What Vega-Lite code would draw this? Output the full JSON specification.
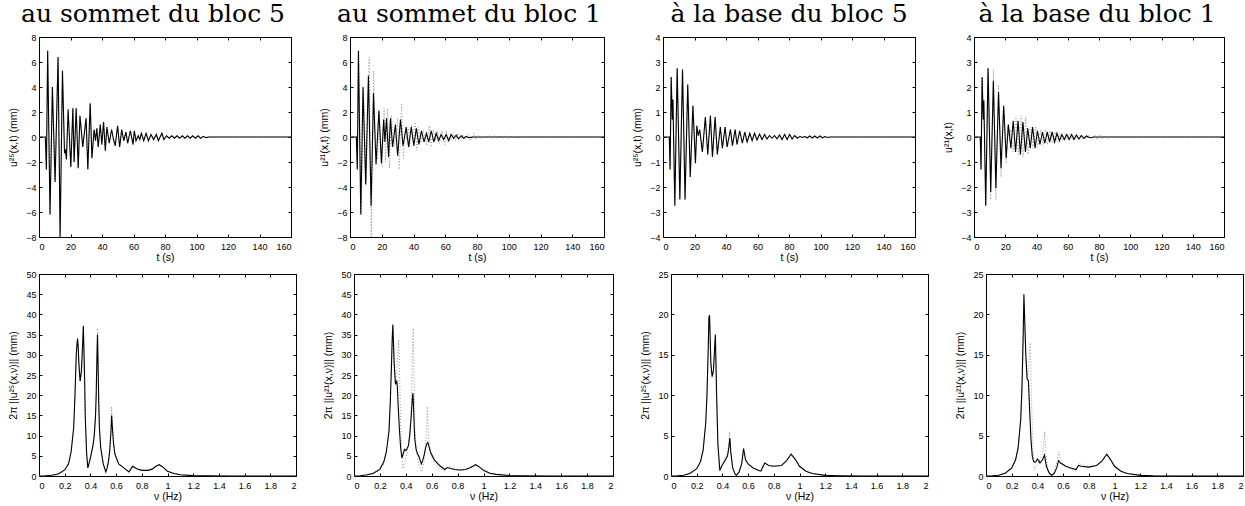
{
"$schema": "https://vega.github.io/schema/vega-lite/v6.json",
"padding": {"left": 7, "top": 1, "right": 5, "bottom": 5},
"background": "white",
"config": {
 "view": {"stroke": "black", "strokeWidth": 1},
 "font": "Liberation Sans",
 "axis": {"grid": false, "domain": false, "tickColor": "black", "tickSize": -3, "tickWidth": 1, "labelFont": "Liberation Sans", "labelFontSize": 9, "labelColor": "black", "titleFont": "Liberation Sans", "titleFontSize": 10.5, "titleFontWeight": "normal", "titleColor": "black"},
 "axisY": {"minExtent": 18, "maxExtent": 18, "titlePadding": 3, "labelPadding": 6},
 "axisX": {"minExtent": 14, "maxExtent": 14, "titlePadding": 1, "labelPadding": 8},
 "title": {"font": "DejaVu Serif", "fontSize": 25, "fontWeight": "normal", "color": "black", "anchor": "middle", "baseline": "alphabetic", "offset": 6}
},
"datasets": {
 "top5": [
  {"t":0,"u":0},{"t":4,"u":0},{"t":4.7,"u":-2.6},{"t":5.5,"u":6.9},{"t":7.0,"u":-6.2},{"t":8.5,"u":4.0},{"t":10.2,"u":-3.6},{"t":12.1,"u":6.4},{"t":13.4,"u":-8.0},{"t":14.9,"u":5.3},{"t":16.2,"u":-1.3},{"t":16.8,"u":-1.0},{"t":17.4,"u":-1.8},{"t":18.5,"u":2.2},{"t":20.2,"u":-2.4},{"t":21.5,"u":2.3},{"t":22.3,"u":-2.0},{"t":23.6,"u":2.3},{"t":24.9,"u":-2.5},{"t":26.0,"u":1.7},{"t":27.8,"u":-0.8},{"t":29.9,"u":1.5},{"t":31.0,"u":-2.6},{"t":32.5,"u":2.7},{"t":33.6,"u":-1.7},{"t":35.0,"u":0.6},{"t":35.9,"u":-0.3},{"t":36.7,"u":0.7},{"t":37.6,"u":-0.8},{"t":38.9,"u":1.0},{"t":39.9,"u":-0.6},{"t":41.0,"u":1.2},{"t":42.1,"u":-1.1},{"t":43.1,"u":0.8},{"t":44.6,"u":-0.5},{"t":46.1,"u":0.6},{"t":47.3,"u":-0.2},{"t":48.4,"u":-0.7},{"t":49.9,"u":0.9},{"t":51.2,"u":-0.8},{"t":52.5,"u":0.6},{"t":53.8,"u":-0.3},{"t":55.2,"u":0.4},{"t":56.3,"u":-0.5},{"t":58.0,"u":0.5},{"t":59.7,"u":-0.6},{"t":60.5,"u":0.5},{"t":61.6,"u":-0.3},{"t":63.0,"u":0.1},{"t":64.0,"u":-0.2},{"t":65.0,"u":0.3},{"t":66.5,"u":-0.3},{"t":68.0,"u":0.3},{"t":69.5,"u":-0.3},{"t":71.1,"u":0.2},{"t":72.8,"u":-0.2},{"t":74.5,"u":0.2},{"t":75.8,"u":-0.3},{"t":78.0,"u":0.3},{"t":79.3,"u":-0.2},{"t":81.0,"u":0.1},{"t":82.6,"u":-0.1},{"t":84.3,"u":0.1},{"t":86.0,"u":-0.1},{"t":87.6,"u":0.1},{"t":89.3,"u":-0.1},{"t":91.0,"u":0.1},{"t":92.6,"u":-0.1},{"t":94.3,"u":0.1},{"t":96.0,"u":-0.1},{"t":97.6,"u":0.1},{"t":99.3,"u":-0.1},{"t":101.0,"u":0.1},{"t":102.6,"u":-0.1},{"t":104.3,"u":0.05},{"t":106.0,"u":-0.05},{"t":108,"u":0},{"t":160,"u":0}
 ],
 "top1": [
  {"t":0,"u":0},{"t":4,"u":0},{"t":4.6,"u":-2.6},{"t":5.3,"u":6.9},{"t":6.8,"u":-6.2},{"t":8.2,"u":4.0},{"t":9.9,"u":-3.8},{"t":11.6,"u":4.9},{"t":13.3,"u":-5.5},{"t":14.8,"u":3.5},{"t":16.4,"u":-2.2},{"t":18.2,"u":2.1},{"t":19.8,"u":-2.1},{"t":21.2,"u":1.4},{"t":22.0,"u":-0.4},{"t":23.0,"u":1.5},{"t":24.3,"u":-1.6},{"t":25.5,"u":1.5},{"t":26.8,"u":-0.8},{"t":28.6,"u":1.0},{"t":30.0,"u":-1.5},{"t":31.8,"u":1.4},{"t":33.4,"u":-0.7},{"t":35.4,"u":0.8},{"t":36.9,"u":-0.8},{"t":38.6,"u":0.8},{"t":40.2,"u":-0.7},{"t":41.8,"u":0.7},{"t":43.4,"u":-0.6},{"t":45.0,"u":0.5},{"t":46.6,"u":-0.4},{"t":48.2,"u":0.3},{"t":49.6,"u":-0.4},{"t":51.2,"u":0.5},{"t":52.8,"u":-0.4},{"t":54.3,"u":0.3},{"t":55.8,"u":-0.3},{"t":57.4,"u":0.2},{"t":59.0,"u":-0.2},{"t":60.6,"u":0.2},{"t":62.2,"u":-0.3},{"t":63.7,"u":0.2},{"t":65.3,"u":-0.1},{"t":66.9,"u":0.15},{"t":68.4,"u":-0.15},{"t":70.0,"u":0.1},{"t":71.6,"u":-0.1},{"t":73.2,"u":0.05},{"t":74.8,"u":-0.05},{"t":78,"u":0},{"t":160,"u":0}
 ],
 "base5": [
  {"t":0,"u":0},{"t":4,"u":0},{"t":4.5,"u":-1.3},{"t":5.2,"u":2.4},{"t":5.9,"u":0.7},{"t":6.3,"u":1.5},{"t":7.5,"u":-2.75},{"t":9.0,"u":2.75},{"t":10.7,"u":-2.5},{"t":12.4,"u":2.7},{"t":14.0,"u":-2.5},{"t":15.7,"u":2.1},{"t":17.3,"u":-1.6},{"t":19.0,"u":1.25},{"t":20.6,"u":-1.05},{"t":21.5,"u":0.45},{"t":22.4,"u":0.05},{"t":23.3,"u":0.3},{"t":25.0,"u":-0.6},{"t":26.9,"u":0.8},{"t":28.4,"u":-0.7},{"t":30.1,"u":0.85},{"t":31.4,"u":-0.8},{"t":33.1,"u":0.8},{"t":34.5,"u":-0.7},{"t":36.4,"u":0.4},{"t":37.7,"u":-0.45},{"t":39.4,"u":0.4},{"t":40.7,"u":-0.4},{"t":42.8,"u":0.3},{"t":44.1,"u":-0.35},{"t":45.8,"u":0.3},{"t":47.0,"u":-0.3},{"t":48.7,"u":0.25},{"t":50.4,"u":-0.25},{"t":51.9,"u":0.2},{"t":53.4,"u":-0.2},{"t":55.1,"u":0.15},{"t":56.6,"u":-0.15},{"t":58.1,"u":0.15},{"t":59.7,"u":-0.12},{"t":61.3,"u":0.12},{"t":62.9,"u":-0.1},{"t":64.5,"u":0.1},{"t":66.0,"u":-0.08},{"t":67.6,"u":0.06},{"t":69.2,"u":-0.05},{"t":70.8,"u":0.06},{"t":72.4,"u":-0.07},{"t":74.0,"u":0.08},{"t":75.6,"u":-0.1},{"t":77.2,"u":0.1},{"t":78.8,"u":-0.1},{"t":80.4,"u":0.1},{"t":82.0,"u":-0.08},{"t":83.6,"u":0.06},{"t":85.2,"u":-0.04},{"t":87.0,"u":0.02},{"t":88.5,"u":-0.02},{"t":90.0,"u":0.02},{"t":91.6,"u":-0.03},{"t":93.2,"u":0.04},{"t":94.8,"u":-0.04},{"t":96.4,"u":0.04},{"t":98.0,"u":-0.04},{"t":99.6,"u":0.04},{"t":101.2,"u":-0.03},{"t":102.8,"u":0.02},{"t":104.4,"u":-0.02},{"t":106,"u":0},{"t":160,"u":0}
 ],
 "base1": [
  {"t":0,"u":0},{"t":4,"u":0},{"t":4.5,"u":-1.3},{"t":5.2,"u":2.4},{"t":5.9,"u":0.7},{"t":6.3,"u":1.45},{"t":7.5,"u":-2.75},{"t":9.0,"u":2.75},{"t":10.7,"u":-2.2},{"t":12.4,"u":2.25},{"t":14.0,"u":-2.05},{"t":15.7,"u":1.8},{"t":17.3,"u":-1.25},{"t":19.0,"u":1.25},{"t":20.6,"u":-0.85},{"t":22.0,"u":0.5},{"t":23.6,"u":-0.45},{"t":25.1,"u":0.65},{"t":26.6,"u":-0.6},{"t":28.2,"u":0.65},{"t":29.7,"u":-0.7},{"t":31.3,"u":0.6},{"t":32.9,"u":-0.6},{"t":34.4,"u":0.35},{"t":36.0,"u":-0.45},{"t":37.5,"u":0.4},{"t":39.1,"u":-0.45},{"t":40.6,"u":0.25},{"t":42.2,"u":-0.3},{"t":43.8,"u":0.2},{"t":45.3,"u":-0.25},{"t":46.9,"u":0.2},{"t":48.4,"u":-0.2},{"t":50.0,"u":0.2},{"t":51.6,"u":-0.2},{"t":53.1,"u":0.15},{"t":54.7,"u":-0.15},{"t":56.2,"u":0.1},{"t":57.8,"u":-0.1},{"t":59.4,"u":0.1},{"t":60.9,"u":-0.1},{"t":62.5,"u":0.1},{"t":64.0,"u":-0.1},{"t":65.6,"u":0.08},{"t":67.2,"u":-0.08},{"t":68.7,"u":0.06},{"t":70.3,"u":-0.06},{"t":72.0,"u":0.04},{"t":74.0,"u":-0.03},{"t":77,"u":0},{"t":160,"u":0}
 ],
 "ftop5": [
  {"f":0,"a":0},{"f":0.05,"a":0.05},{"f":0.1,"a":0.2},{"f":0.15,"a":0.5},{"f":0.2,"a":1.5},{"f":0.23,"a":3},{"f":0.25,"a":6},{"f":0.27,"a":12},{"f":0.28,"a":20},{"f":0.29,"a":30},{"f":0.295,"a":32.5},{"f":0.3,"a":34},{"f":0.305,"a":32},{"f":0.31,"a":28},{"f":0.32,"a":23.5},{"f":0.33,"a":26},{"f":0.34,"a":33},{"f":0.345,"a":37.2},{"f":0.35,"a":31},{"f":0.355,"a":24},{"f":0.36,"a":15},{"f":0.37,"a":6},{"f":0.38,"a":2.0},{"f":0.39,"a":3.2},{"f":0.4,"a":4.5},{"f":0.42,"a":7.5},{"f":0.43,"a":10},{"f":0.44,"a":15},{"f":0.445,"a":20},{"f":0.45,"a":28},{"f":0.455,"a":35},{"f":0.46,"a":27},{"f":0.465,"a":18},{"f":0.47,"a":12},{"f":0.48,"a":7},{"f":0.5,"a":3},{"f":0.52,"a":1.0},{"f":0.53,"a":2},{"f":0.54,"a":3.5},{"f":0.55,"a":6},{"f":0.56,"a":11},{"f":0.565,"a":15},{"f":0.57,"a":12.5},{"f":0.58,"a":8},{"f":0.59,"a":5.5},{"f":0.62,"a":3},{"f":0.66,"a":2},{"f":0.7,"a":1.0},{"f":0.72,"a":2.0},{"f":0.73,"a":2.4},{"f":0.76,"a":1.8},{"f":0.8,"a":1.4},{"f":0.85,"a":1.4},{"f":0.88,"a":1.7},{"f":0.91,"a":2.4},{"f":0.935,"a":2.8},{"f":0.96,"a":2.3},{"f":1.0,"a":1.2},{"f":1.05,"a":0.6},{"f":1.1,"a":0.3},{"f":1.2,"a":0.1},{"f":1.3,"a":0.04},{"f":1.5,"a":0},{"f":2,"a":0}
 ],
 "ftopref": [
  {"f":0,"a":0},{"f":0.05,"a":0.05},{"f":0.1,"a":0.2},{"f":0.15,"a":0.5},{"f":0.2,"a":1.5},{"f":0.23,"a":3},{"f":0.25,"a":6},{"f":0.27,"a":12},{"f":0.28,"a":20},{"f":0.29,"a":30},{"f":0.295,"a":32.5},{"f":0.3,"a":34},{"f":0.305,"a":32},{"f":0.31,"a":28},{"f":0.32,"a":23.5},{"f":0.33,"a":25},{"f":0.34,"a":31},{"f":0.345,"a":33.8},{"f":0.35,"a":28},{"f":0.355,"a":21},{"f":0.36,"a":13},{"f":0.37,"a":5},{"f":0.378,"a":1.8},{"f":0.39,"a":3.2},{"f":0.4,"a":4.5},{"f":0.42,"a":7.5},{"f":0.43,"a":10},{"f":0.44,"a":15},{"f":0.445,"a":21},{"f":0.45,"a":29},{"f":0.457,"a":36.5},{"f":0.462,"a":27},{"f":0.467,"a":18},{"f":0.47,"a":12},{"f":0.48,"a":7},{"f":0.5,"a":3},{"f":0.52,"a":1.0},{"f":0.53,"a":2},{"f":0.54,"a":3.5},{"f":0.55,"a":6.5},{"f":0.56,"a":12},{"f":0.565,"a":17.2},{"f":0.57,"a":13.5},{"f":0.58,"a":8.5},{"f":0.59,"a":5.5},{"f":0.62,"a":3},{"f":0.66,"a":2},{"f":0.7,"a":1.0},{"f":0.72,"a":2.2},{"f":0.73,"a":2.5},{"f":0.76,"a":1.8},{"f":0.8,"a":1.4},{"f":0.85,"a":1.4},{"f":0.88,"a":1.7},{"f":0.91,"a":2.4},{"f":0.935,"a":2.8},{"f":0.96,"a":2.3},{"f":1.0,"a":1.2},{"f":1.05,"a":0.6},{"f":1.1,"a":0.3},{"f":1.2,"a":0.1},{"f":1.3,"a":0.04},{"f":1.5,"a":0},{"f":2,"a":0}
 ],
 "ftop1": [
  {"f":0,"a":0},{"f":0.05,"a":0.05},{"f":0.1,"a":0.3},{"f":0.15,"a":0.7},{"f":0.2,"a":1.7},{"f":0.23,"a":3.5},{"f":0.25,"a":6},{"f":0.27,"a":11},{"f":0.28,"a":18},{"f":0.29,"a":28},{"f":0.295,"a":34},{"f":0.3,"a":37.5},{"f":0.305,"a":33},{"f":0.31,"a":28},{"f":0.32,"a":22.7},{"f":0.33,"a":23.6},{"f":0.335,"a":22},{"f":0.34,"a":18},{"f":0.35,"a":12},{"f":0.36,"a":7},{"f":0.37,"a":4.5},{"f":0.38,"a":5.5},{"f":0.39,"a":6.6},{"f":0.4,"a":6.3},{"f":0.41,"a":6.8},{"f":0.42,"a":7.5},{"f":0.43,"a":10},{"f":0.44,"a":14},{"f":0.45,"a":19},{"f":0.455,"a":20.5},{"f":0.46,"a":17},{"f":0.465,"a":12},{"f":0.47,"a":9},{"f":0.48,"a":6.5},{"f":0.49,"a":5.5},{"f":0.5,"a":5},{"f":0.51,"a":4},{"f":0.52,"a":3.0},{"f":0.53,"a":3.8},{"f":0.54,"a":5},{"f":0.55,"a":6.5},{"f":0.56,"a":7.8},{"f":0.57,"a":8.3},{"f":0.58,"a":7.2},{"f":0.59,"a":6},{"f":0.62,"a":4},{"f":0.66,"a":2.6},{"f":0.7,"a":1.6},{"f":0.72,"a":2.1},{"f":0.74,"a":1.9},{"f":0.78,"a":1.6},{"f":0.82,"a":1.5},{"f":0.86,"a":1.6},{"f":0.9,"a":2.1},{"f":0.94,"a":2.8},{"f":0.97,"a":2.2},{"f":1.0,"a":1.4},{"f":1.05,"a":0.7},{"f":1.1,"a":0.4},{"f":1.2,"a":0.12},{"f":1.3,"a":0.05},{"f":1.5,"a":0},{"f":2,"a":0}
 ],
 "fbase5": [
  {"f":0,"a":0},{"f":0.05,"a":0.03},{"f":0.1,"a":0.1},{"f":0.15,"a":0.35},{"f":0.2,"a":0.9},{"f":0.23,"a":1.8},{"f":0.25,"a":3.2},{"f":0.27,"a":6.5},{"f":0.28,"a":10},{"f":0.29,"a":16},{"f":0.295,"a":19.6},{"f":0.3,"a":19.9},{"f":0.305,"a":17},{"f":0.31,"a":14},{"f":0.32,"a":12.3},{"f":0.33,"a":13},{"f":0.34,"a":16},{"f":0.345,"a":17.5},{"f":0.35,"a":14},{"f":0.355,"a":10},{"f":0.365,"a":4},{"f":0.38,"a":0.7},{"f":0.4,"a":1.4},{"f":0.42,"a":1.9},{"f":0.44,"a":2.5},{"f":0.45,"a":3.5},{"f":0.458,"a":4.7},{"f":0.465,"a":3},{"f":0.48,"a":1.0},{"f":0.5,"a":0.2},{"f":0.51,"a":0.1},{"f":0.53,"a":0.5},{"f":0.55,"a":1.5},{"f":0.565,"a":3.4},{"f":0.58,"a":2.0},{"f":0.6,"a":1.5},{"f":0.64,"a":1.0},{"f":0.68,"a":0.7},{"f":0.7,"a":0.6},{"f":0.72,"a":1.3},{"f":0.73,"a":1.6},{"f":0.76,"a":1.3},{"f":0.8,"a":1.2},{"f":0.86,"a":1.3},{"f":0.9,"a":1.9},{"f":0.935,"a":2.7},{"f":0.97,"a":2.0},{"f":1.0,"a":1.2},{"f":1.05,"a":0.6},{"f":1.1,"a":0.3},{"f":1.2,"a":0.08},{"f":1.3,"a":0.03},{"f":1.5,"a":0},{"f":2,"a":0}
 ],
 "fbaseref": [
  {"f":0,"a":0},{"f":0.05,"a":0.03},{"f":0.1,"a":0.1},{"f":0.15,"a":0.35},{"f":0.2,"a":0.9},{"f":0.23,"a":1.8},{"f":0.25,"a":3.2},{"f":0.27,"a":6.5},{"f":0.28,"a":10},{"f":0.29,"a":16},{"f":0.295,"a":19.6},{"f":0.3,"a":19.9},{"f":0.305,"a":17},{"f":0.31,"a":14},{"f":0.32,"a":12.3},{"f":0.33,"a":13},{"f":0.34,"a":15.5},{"f":0.345,"a":16.5},{"f":0.35,"a":13},{"f":0.355,"a":9},{"f":0.365,"a":3.5},{"f":0.375,"a":0.7},{"f":0.4,"a":1.4},{"f":0.42,"a":2.0},{"f":0.44,"a":2.8},{"f":0.45,"a":4.0},{"f":0.456,"a":5.5},{"f":0.463,"a":3.2},{"f":0.48,"a":1.0},{"f":0.5,"a":0.2},{"f":0.51,"a":0.1},{"f":0.53,"a":0.5},{"f":0.55,"a":1.6},{"f":0.565,"a":3.0},{"f":0.58,"a":2.0},{"f":0.6,"a":1.5},{"f":0.64,"a":1.0},{"f":0.68,"a":0.7},{"f":0.7,"a":0.6},{"f":0.72,"a":1.4},{"f":0.73,"a":1.6},{"f":0.76,"a":1.3},{"f":0.8,"a":1.2},{"f":0.86,"a":1.3},{"f":0.9,"a":1.9},{"f":0.935,"a":2.7},{"f":0.97,"a":2.0},{"f":1.0,"a":1.2},{"f":1.05,"a":0.6},{"f":1.1,"a":0.3},{"f":1.2,"a":0.08},{"f":1.3,"a":0.03},{"f":1.5,"a":0},{"f":2,"a":0}
 ],
 "fbase1": [
  {"f":0,"a":0},{"f":0.05,"a":0.03},{"f":0.1,"a":0.1},{"f":0.15,"a":0.35},{"f":0.2,"a":1.0},{"f":0.23,"a":2},{"f":0.25,"a":3.5},{"f":0.27,"a":7},{"f":0.28,"a":11},{"f":0.29,"a":18},{"f":0.295,"a":22.5},{"f":0.3,"a":20},{"f":0.31,"a":15},{"f":0.32,"a":12},{"f":0.33,"a":11.8},{"f":0.335,"a":10},{"f":0.34,"a":8},{"f":0.35,"a":4.5},{"f":0.36,"a":2.5},{"f":0.37,"a":1.8},{"f":0.38,"a":1.7},{"f":0.39,"a":1.8},{"f":0.4,"a":2.1},{"f":0.41,"a":1.9},{"f":0.42,"a":1.6},{"f":0.44,"a":2.0},{"f":0.455,"a":2.6},{"f":0.46,"a":2.1},{"f":0.47,"a":1.2},{"f":0.49,"a":0.4},{"f":0.51,"a":0.1},{"f":0.53,"a":0.3},{"f":0.55,"a":1.0},{"f":0.565,"a":1.9},{"f":0.58,"a":1.6},{"f":0.62,"a":1.2},{"f":0.66,"a":1.0},{"f":0.7,"a":0.8},{"f":0.72,"a":1.3},{"f":0.74,"a":1.2},{"f":0.8,"a":1.1},{"f":0.86,"a":1.3},{"f":0.9,"a":1.8},{"f":0.94,"a":2.7},{"f":0.97,"a":2.0},{"f":1.0,"a":1.2},{"f":1.05,"a":0.6},{"f":1.1,"a":0.3},{"f":1.2,"a":0.08},{"f":1.3,"a":0.02},{"f":1.5,"a":0},{"f":2,"a":0}
 ]
},
"spacing": 6,
"vconcat": [
 {"spacing": 24, "hconcat": [
  {"width": 252, "height": 200, "title": {"text": "au sommet du bloc 5", "dx": -12},
   "layer": [
    {"data": {"name": "top5"}, "mark": {"type": "line", "color": "#999999", "strokeWidth": 1, "strokeDash": [1, 2]},
     "encoding": {"x": {"field": "t", "type": "quantitative", "scale": {"domain": [0, 160], "nice": false}, "axis": {"orient": "top", "values": [0,20,40,60,80,100,120,140,160], "labels": false, "title": null, "minExtent": 0, "maxExtent": 0}},
                  "y": {"field": "u", "type": "quantitative", "scale": {"domain": [-8, 8], "nice": false}, "axis": {"orient": "right", "values": [-8,-6,-4,-2,0,2,4,6,8], "labels": false, "title": null, "minExtent": 0, "maxExtent": 0}}}},
    {"data": {"name": "top5"}, "mark": {"type": "line", "color": "black", "strokeWidth": 1.1},
     "encoding": {"x": {"field": "t", "type": "quantitative", "axis": {"orient": "bottom", "values": [0,20,40,60,80,100,120,140,160], "title": "t (s)"}},
                  "y": {"field": "u", "type": "quantitative", "axis": {"orient": "left", "values": [-8,-6,-4,-2,0,2,4,6,8], "title": "u²⁵(x,t) (mm)"}}}}
   ],
   "resolve": {"axis": {"x": "independent", "y": "independent"}}},
  {"width": 254, "height": 200, "title": {"text": "au sommet du bloc 1", "dx": -8},
   "layer": [
    {"data": {"name": "top5"}, "mark": {"type": "line", "color": "#999999", "strokeWidth": 1, "strokeDash": [1, 2]},
     "encoding": {"x": {"field": "t", "type": "quantitative", "scale": {"domain": [0, 160], "nice": false}, "axis": {"orient": "top", "values": [0,20,40,60,80,100,120,140,160], "labels": false, "title": null, "minExtent": 0, "maxExtent": 0}},
                  "y": {"field": "u", "type": "quantitative", "scale": {"domain": [-8, 8], "nice": false}, "axis": {"orient": "right", "values": [-8,-6,-4,-2,0,2,4,6,8], "labels": false, "title": null, "minExtent": 0, "maxExtent": 0}}}},
    {"data": {"name": "top1"}, "mark": {"type": "line", "color": "black", "strokeWidth": 1.1},
     "encoding": {"x": {"field": "t", "type": "quantitative", "axis": {"orient": "bottom", "values": [0,20,40,60,80,100,120,140,160], "title": "t (s)"}},
                  "y": {"field": "u", "type": "quantitative", "axis": {"orient": "left", "values": [-8,-6,-4,-2,0,2,4,6,8], "title": "u²¹(x,t) (mm)"}}}}
   ],
   "resolve": {"axis": {"x": "independent", "y": "independent"}}},
  {"width": 252, "height": 200, "title": {"text": "à la base du bloc 5", "dx": 0},
   "layer": [
    {"data": {"name": "base5"}, "mark": {"type": "line", "color": "#999999", "strokeWidth": 1, "strokeDash": [1, 2]},
     "encoding": {"x": {"field": "t", "type": "quantitative", "scale": {"domain": [0, 160], "nice": false}, "axis": {"orient": "top", "values": [0,20,40,60,80,100,120,140,160], "labels": false, "title": null, "minExtent": 0, "maxExtent": 0}},
                  "y": {"field": "u", "type": "quantitative", "scale": {"domain": [-4, 4], "nice": false}, "axis": {"orient": "right", "values": [-4,-3,-2,-1,0,1,2,3,4], "labels": false, "title": null, "minExtent": 0, "maxExtent": 0}}}},
    {"data": {"name": "base5"}, "mark": {"type": "line", "color": "black", "strokeWidth": 1.1},
     "encoding": {"x": {"field": "t", "type": "quantitative", "axis": {"orient": "bottom", "values": [0,20,40,60,80,100,120,140,160], "title": "t (s)"}},
                  "y": {"field": "u", "type": "quantitative", "axis": {"orient": "left", "values": [-4,-3,-2,-1,0,1,2,3,4], "title": "u²⁵(x,t) (mm)"}}}}
   ],
   "resolve": {"axis": {"x": "independent", "y": "independent"}}},
  {"width": 250, "height": 200, "title": {"text": "à la base du bloc 1", "dx": -2},
   "layer": [
    {"data": {"name": "base5"}, "mark": {"type": "line", "color": "#999999", "strokeWidth": 1, "strokeDash": [1, 2]},
     "encoding": {"x": {"field": "t", "type": "quantitative", "scale": {"domain": [0, 160], "nice": false}, "axis": {"orient": "top", "values": [0,20,40,60,80,100,120,140,160], "labels": false, "title": null, "minExtent": 0, "maxExtent": 0}},
                  "y": {"field": "u", "type": "quantitative", "scale": {"domain": [-4, 4], "nice": false}, "axis": {"orient": "right", "values": [-4,-3,-2,-1,0,1,2,3,4], "labels": false, "title": null, "minExtent": 0, "maxExtent": 0}}}},
    {"data": {"name": "base1"}, "mark": {"type": "line", "color": "black", "strokeWidth": 1.1},
     "encoding": {"x": {"field": "t", "type": "quantitative", "axis": {"orient": "bottom", "values": [0,20,40,60,80,100,120,140,160], "title": "t (s)"}},
                  "y": {"field": "u", "type": "quantitative", "axis": {"orient": "left", "values": [-4,-3,-2,-1,0,1,2,3,4], "title": "u²¹(x,t)"}}}}
   ],
   "resolve": {"axis": {"x": "independent", "y": "independent"}}}
 ]},
 {"spacing": 23, "hconcat": [
  {"width": 257, "height": 202,
   "layer": [
    {"data": {"name": "ftopref"}, "mark": {"type": "line", "color": "#999999", "strokeWidth": 1, "strokeDash": [1, 2]},
     "encoding": {"x": {"field": "f", "type": "quantitative", "scale": {"domain": [0, 2], "nice": false}, "axis": {"orient": "top", "values": [0,0.2,0.4,0.6,0.8,1,1.2,1.4,1.6,1.8,2], "labels": false, "title": null, "minExtent": 0, "maxExtent": 0}},
                  "y": {"field": "a", "type": "quantitative", "scale": {"domain": [0, 50], "nice": false}, "axis": {"orient": "right", "values": [0,5,10,15,20,25,30,35,40,45,50], "labels": false, "title": null, "minExtent": 0, "maxExtent": 0}}}},
    {"data": {"name": "ftop5"}, "mark": {"type": "line", "color": "black", "strokeWidth": 1.1},
     "encoding": {"x": {"field": "f", "type": "quantitative", "axis": {"orient": "bottom", "values": [0,0.2,0.4,0.6,0.8,1,1.2,1.4,1.6,1.8,2], "format": "~g", "title": "ν (Hz)"}},
                  "y": {"field": "a", "type": "quantitative", "axis": {"orient": "left", "values": [0,5,10,15,20,25,30,35,40,45,50], "title": "2π ||u²⁵(x,ν)|| (mm)"}}}}
   ],
   "resolve": {"axis": {"x": "independent", "y": "independent"}}},
  {"width": 259, "height": 202,
   "layer": [
    {"data": {"name": "ftopref"}, "mark": {"type": "line", "color": "#999999", "strokeWidth": 1, "strokeDash": [1, 2]},
     "encoding": {"x": {"field": "f", "type": "quantitative", "scale": {"domain": [0, 2], "nice": false}, "axis": {"orient": "top", "values": [0,0.2,0.4,0.6,0.8,1,1.2,1.4,1.6,1.8,2], "labels": false, "title": null, "minExtent": 0, "maxExtent": 0}},
                  "y": {"field": "a", "type": "quantitative", "scale": {"domain": [0, 50], "nice": false}, "axis": {"orient": "right", "values": [0,5,10,15,20,25,30,35,40,45,50], "labels": false, "title": null, "minExtent": 0, "maxExtent": 0}}}},
    {"data": {"name": "ftop1"}, "mark": {"type": "line", "color": "black", "strokeWidth": 1.1},
     "encoding": {"x": {"field": "f", "type": "quantitative", "axis": {"orient": "bottom", "values": [0,0.2,0.4,0.6,0.8,1,1.2,1.4,1.6,1.8,2], "format": "~g", "title": "ν (Hz)"}},
                  "y": {"field": "a", "type": "quantitative", "axis": {"orient": "left", "values": [0,5,10,15,20,25,30,35,40,45,50], "title": "2π ||u²¹(x,ν)|| (mm)"}}}}
   ],
   "resolve": {"axis": {"x": "independent", "y": "independent"}}},
  {"width": 257, "height": 202,
   "layer": [
    {"data": {"name": "fbaseref"}, "mark": {"type": "line", "color": "#999999", "strokeWidth": 1, "strokeDash": [1, 2]},
     "encoding": {"x": {"field": "f", "type": "quantitative", "scale": {"domain": [0, 2], "nice": false}, "axis": {"orient": "top", "values": [0,0.2,0.4,0.6,0.8,1,1.2,1.4,1.6,1.8,2], "labels": false, "title": null, "minExtent": 0, "maxExtent": 0}},
                  "y": {"field": "a", "type": "quantitative", "scale": {"domain": [0, 25], "nice": false}, "axis": {"orient": "right", "values": [0,5,10,15,20,25], "labels": false, "title": null, "minExtent": 0, "maxExtent": 0}}}},
    {"data": {"name": "fbase5"}, "mark": {"type": "line", "color": "black", "strokeWidth": 1.1},
     "encoding": {"x": {"field": "f", "type": "quantitative", "axis": {"orient": "bottom", "values": [0,0.2,0.4,0.6,0.8,1,1.2,1.4,1.6,1.8,2], "format": "~g", "title": "ν (Hz)"}},
                  "y": {"field": "a", "type": "quantitative", "axis": {"orient": "left", "values": [0,5,10,15,20,25], "title": "2π ||u²⁵(x,ν)|| (mm)"}}}}
   ],
   "resolve": {"axis": {"x": "independent", "y": "independent"}}},
  {"width": 257, "height": 202,
   "layer": [
    {"data": {"name": "fbaseref"}, "mark": {"type": "line", "color": "#999999", "strokeWidth": 1, "strokeDash": [1, 2]},
     "encoding": {"x": {"field": "f", "type": "quantitative", "scale": {"domain": [0, 2], "nice": false}, "axis": {"orient": "top", "values": [0,0.2,0.4,0.6,0.8,1,1.2,1.4,1.6,1.8,2], "labels": false, "title": null, "minExtent": 0, "maxExtent": 0}},
                  "y": {"field": "a", "type": "quantitative", "scale": {"domain": [0, 25], "nice": false}, "axis": {"orient": "right", "values": [0,5,10,15,20,25], "labels": false, "title": null, "minExtent": 0, "maxExtent": 0}}}},
    {"data": {"name": "fbase1"}, "mark": {"type": "line", "color": "black", "strokeWidth": 1.1},
     "encoding": {"x": {"field": "f", "type": "quantitative", "axis": {"orient": "bottom", "values": [0,0.2,0.4,0.6,0.8,1,1.2,1.4,1.6,1.8,2], "format": "~g", "title": "ν (Hz)"}},
                  "y": {"field": "a", "type": "quantitative", "axis": {"orient": "left", "values": [0,5,10,15,20,25], "title": "2π ||u²¹(x,ν)|| (mm)"}}}}
   ],
   "resolve": {"axis": {"x": "independent", "y": "independent"}}}
 ]}
]
}
